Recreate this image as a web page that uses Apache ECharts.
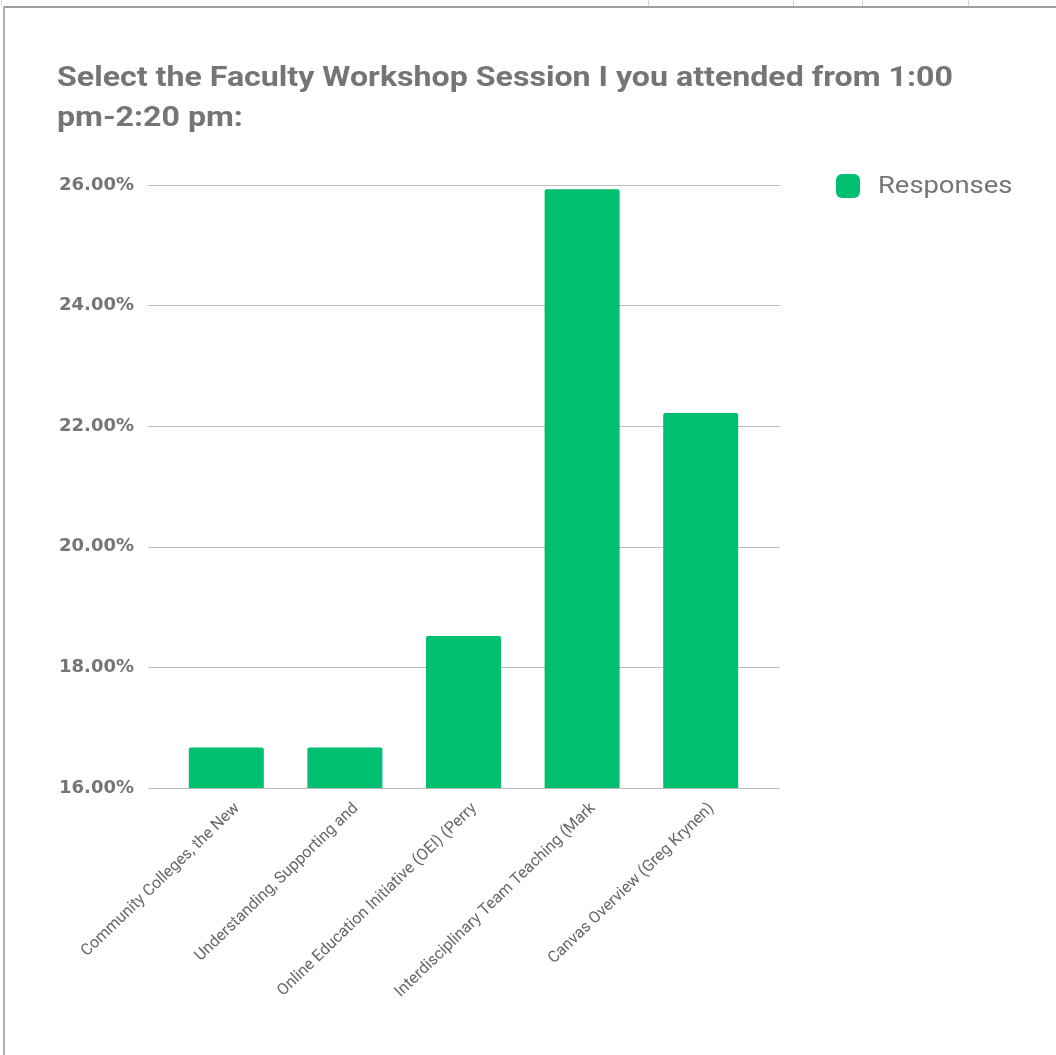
<!DOCTYPE html>
<html>
<head>
<meta charset="utf-8">
<script src="https://cdn.jsdelivr.net/npm/echarts@6/dist/echarts.min.js"></script>
<style>html,body{margin:0;padding:0;background:#fff;}#c{width:1056px;height:1055px;}</style>
</head>
<body>
<div id="c"></div>
<script>
const titleText = 'Select the Faculty Workshop Session I you attended from 1:00\npm-2:20 pm:';
const categories = [
  'Community Colleges, the New',
  'Understanding, Supporting and',
  'Online Education Initiative (OEI) (Perry',
  'Interdisciplinary Team Teaching (Mark',
  'Canvas Overview (Greg Krynen)'
];
const responses = [16.67, 16.67, 18.52, 25.93, 22.22];
const yTicks = [16, 18, 20, 22, 24, 26];
const seriesName = 'Responses';

const chart = echarts.init(document.getElementById('c'), null, {renderer: 'canvas'});
const yMin = yTicks[0], yMax = yTicks[yTicks.length - 1], yStep = yTicks[1] - yTicks[0];
const grey = '#757575';
const stretch = 1.19;

chart.setOption({
  animation: false,
  backgroundColor: '#fff',
  legend: {
    left: 831, top: 169,
    itemWidth: 24, itemHeight: 24,
    icon: 'roundRect',
    data: [seriesName],
    formatter: () => '',
    textStyle: {fontFamily: 'Roboto', fontSize: 23, color: grey}
  },
  grid: [
    {left: 148, right: 276, top: 185, bottom: 267},
    {left: 167, right: 296, top: 185, bottom: 267},
    {left: 178, right: 285, top: 185, bottom: 267}
  ],
  xAxis: [
    {gridIndex: 0, type: 'value', min: 0, max: 1, show: false},
    {gridIndex: 1, type: 'category', data: categories,
     axisLine: {show: false}, axisTick: {show: false}, axisLabel: {show: false}},
    {gridIndex: 2, type: 'category', data: categories,
     axisLine: {show: false}, axisTick: {show: false},
     axisLabel: {interval: 0, rotate: 44, margin: 18, fontFamily: 'Roboto', fontSize: 16, color: '#666'}}
  ],
  yAxis: [
    {gridIndex: 0, type: 'value', min: yMin, max: yMax, interval: yStep,
     axisLine: {show: false}, axisTick: {show: false},
     splitLine: {lineStyle: {color: '#bdbdbd', width: 1}},
     axisLabel: {margin: 14, fontFamily: 'DejaVu Sans', fontWeight: 'bold', fontSize: 18, color: grey,
       formatter: v => v.toFixed(2) + '%'}},
    {gridIndex: 1, type: 'value', min: yMin, max: yMax, interval: yStep, show: false},
    {gridIndex: 2, type: 'value', min: yMin, max: yMax, interval: yStep, show: false}
  ],
  series: [{
    name: seriesName, type: 'bar', xAxisIndex: 1, yAxisIndex: 1,
    data: responses, barWidth: 75,
    itemStyle: {color: '#00bf6f', borderRadius: [2, 2, 0, 0]}
  }],
  graphic: [
    {type: 'text', x: 57, y: 59, scaleX: stretch,
     style: {text: titleText, fontFamily: 'Roboto', fontWeight: 'bold', fontSize: 27, lineHeight: 40,
       fill: grey, verticalAlign: 'top', align: 'left'}},
    {type: 'text', x: 878, y: 187, scaleX: stretch,
     style: {text: seriesName, fontFamily: 'Roboto', fontSize: 23, fill: grey, verticalAlign: 'middle', align: 'left'}},
    {type: 'line', shape: {x1: 3, y1: 7, x2: 1056, y2: 7}, style: {stroke: '#9e9e9e', lineWidth: 2}},
    {type: 'line', shape: {x1: 4, y1: 6, x2: 4, y2: 1055}, style: {stroke: '#b0b0b0', lineWidth: 2}},
    {type: 'line', shape: {x1: 1.5, y1: 0, x2: 1.5, y2: 6}, style: {stroke: '#d9d9d9', lineWidth: 1}},
    {type: 'line', shape: {x1: 648.5, y1: 0, x2: 648.5, y2: 6}, style: {stroke: '#d9d9d9', lineWidth: 1}},
    {type: 'line', shape: {x1: 793.5, y1: 0, x2: 793.5, y2: 6}, style: {stroke: '#d9d9d9', lineWidth: 1}},
    {type: 'line', shape: {x1: 862.5, y1: 0, x2: 862.5, y2: 6}, style: {stroke: '#d9d9d9', lineWidth: 1}},
    {type: 'line', shape: {x1: 968.5, y1: 0, x2: 968.5, y2: 6}, style: {stroke: '#d9d9d9', lineWidth: 1}}
  ]
});
</script>
</body>
</html>
